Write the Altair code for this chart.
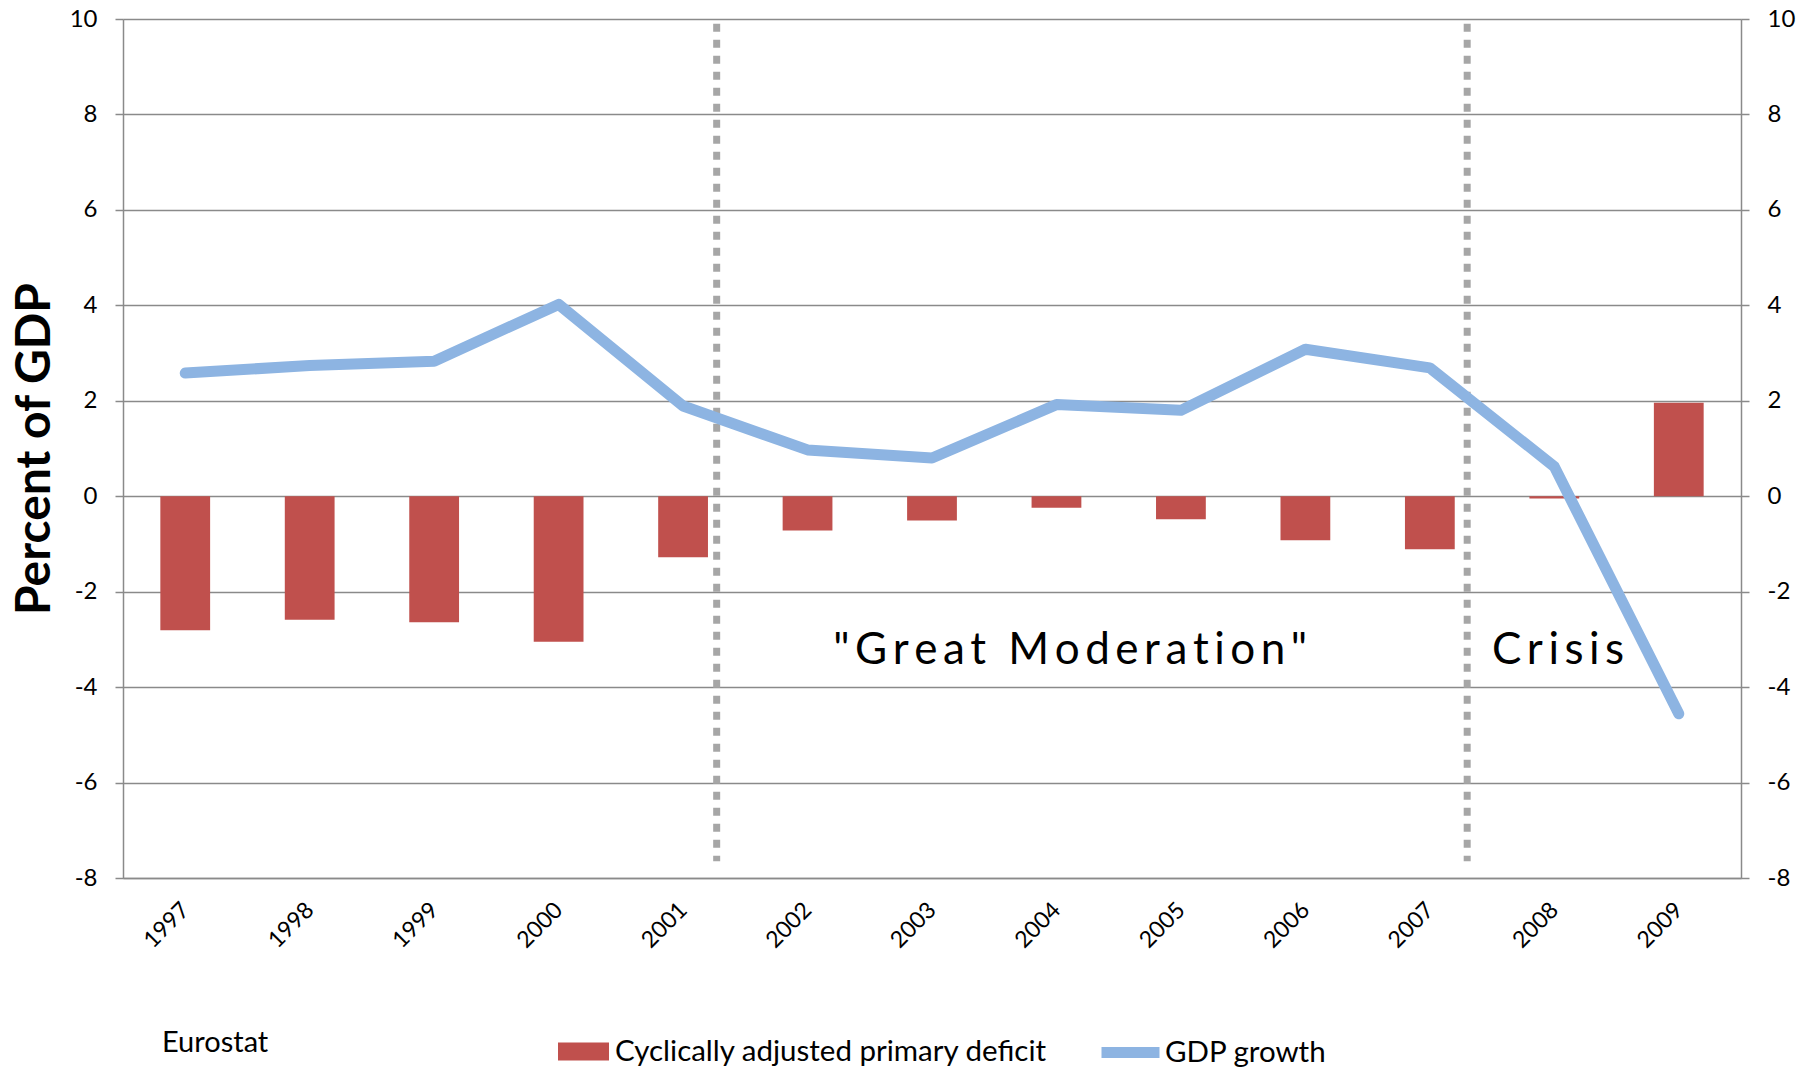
import altair as alt
import pandas as pd

# ---- data ----
years = list(range(1997, 2010))
deficit = [-2.81, -2.59, -2.64, -3.05, -1.28, -0.72, -0.51, -0.24, -0.48, -0.92, -1.11, -0.05, 1.96]
gdp_growth = [2.58, 2.74, 2.83, 4.02, 1.89, 0.97, 0.80, 1.92, 1.80, 3.08, 2.69, 0.62, -4.56]
period_breaks = [2001.27, 2007.30]
period_labels = ['"Great Moderation"', "Crisis"]
period_label_x = [2004.11, 2008.03]
period_label_y = [-3.24, -3.24]
bar_name = "Cyclically adjusted primary deficit"
line_name = "GDP growth"
source_text = "Eurostat"

FONT = "Lato"
GRID = "#8a8a8a"
BAR_COLOR = "#c0504d"
LINE_COLOR = "#8db4e2"

bars_df = pd.DataFrame({"year": years, "value": deficit, "series": bar_name})
line_df = pd.DataFrame({"year": years, "value": gdp_growth, "series": line_name})
breaks_df = pd.DataFrame({"x": period_breaks, "top": 9.9, "bottom": -7.65})
labels_df = pd.DataFrame({"x": period_label_x, "y": period_label_y,
                          "label": ["\u200a\u200a".join(s) for s in period_labels]})
src_df = pd.DataFrame({"t": [source_text]})

x_scale = alt.Scale(domain=[1996.5, 2009.5], nice=False, zero=False)
y_scale = alt.Scale(domain=[-8, 10], nice=False, zero=False)
x_axis = alt.Axis(values=years, format="d", labelAngle=-45, labelAlign="right",
                  labelBaseline="middle", labelPadding=28, ticks=False, grid=False,
                  domainColor=GRID, domainWidth=1.5, labelFont=FONT,
                  labelFontSize=23, labelColor="black", title=None)
y_vals = list(range(-8, 11, 2))

bars = alt.Chart(bars_df).transform_calculate(
    x0="datum.year - 0.2", x1="datum.year + 0.2"
).mark_bar(clip=False).encode(
    x=alt.X("x0:Q", scale=x_scale, axis=x_axis, title=None),
    x2="x1:Q",
    y=alt.Y("value:Q", scale=y_scale, title="Percent of GDP",
            axis=alt.Axis(values=y_vals, grid=True, gridColor=GRID,
                          gridWidth=1.5, domainColor=GRID, domainWidth=1.5,
                          tickColor=GRID, tickWidth=1.5, tickSize=8,
                          labelExpr="datum.value + ''",
                          labelPadding=18, labelFont=FONT, labelFontSize=24,
                          labelColor="black", titleFont=FONT, titleFontSize=48,
                          titleFontWeight="bold", titleColor="black",
                          titlePadding=10)),
    y2=alt.datum(0),
    fill=alt.Fill("series:N",
                  scale=alt.Scale(domain=[bar_name], range=[BAR_COLOR]),
                  legend=alt.Legend(orient="none", legendX=435, legendY=1007,
                                    title=None, direction="horizontal",
                                    symbolType="M-1,-0.353H1V0.353H-1Z",
                                    symbolSize=2601, symbolStrokeWidth=0,
                                    labelFont=FONT, labelFontSize=29.5,
                                    labelLimit=0,
                                    labelColor="black", labelOffset=6,
                                    padding=0)),
)

line = alt.Chart(line_df).mark_line(strokeWidth=11, strokeCap="round",
                                    strokeJoin="round").encode(
    x=alt.X("year:Q", scale=x_scale, axis=x_axis, title=None),
    y=alt.Y("value:Q", scale=y_scale, title=None,
            axis=alt.Axis(orient="right", values=y_vals, grid=False,
                          domainColor=GRID, domainWidth=1.5, tickColor=GRID,
                          tickWidth=1.5, tickSize=8, labelPadding=18,
                          labelExpr="datum.value + ''",
                          labelFont=FONT, labelFontSize=24, labelColor="black")),
    stroke=alt.Stroke("series:N",
                      scale=alt.Scale(domain=[line_name], range=[LINE_COLOR]),
                      legend=alt.Legend(orient="none", legendX=973, legendY=999,
                                        title=None, direction="horizontal",
                                        symbolType="stroke", symbolSize=3364,
                                        symbolStrokeWidth=11,
                                        labelFont=FONT, labelFontSize=29.5,
                                        labelLimit=0,
                                        labelColor="black", labelOffset=0,
                                        padding=0)),
)

rules = alt.Chart(breaks_df).mark_rule(color="#a6a6a6", strokeWidth=7,
                                       strokeDash=[8, 8]).encode(
    x=alt.X("x:Q", scale=x_scale, axis=x_axis, title=None),
    y=alt.Y("top:Q", scale=y_scale, axis=None),
    y2="bottom:Q",
)

texts = alt.Chart(labels_df).mark_text(font=FONT, fontSize=44, color="black",
                                       align="center", baseline="middle").encode(
    x=alt.X("x:Q", scale=x_scale, axis=x_axis, title=None),
    y=alt.Y("y:Q", scale=y_scale, axis=None),
    text="label:N",
)

source = alt.Chart(src_df).mark_text(font=FONT, fontSize=29, color="black",
                                     align="left", baseline="alphabetic").encode(
    x=alt.value(39), y=alt.value(1033), text="t:N"
)

chart = alt.layer(rules, bars, line, texts, source).resolve_scale(
    y="independent", fill="independent", stroke="independent"
).properties(
    width=1618, height=859,
    autosize=alt.AutoSizeParams(type="none"),
    padding={"left": 123, "top": 19, "right": 72, "bottom": 190},
).configure_view(stroke=None).configure(background="white")

chart.save("out.html", embed_options={"renderer": "svg", "actions": False})
